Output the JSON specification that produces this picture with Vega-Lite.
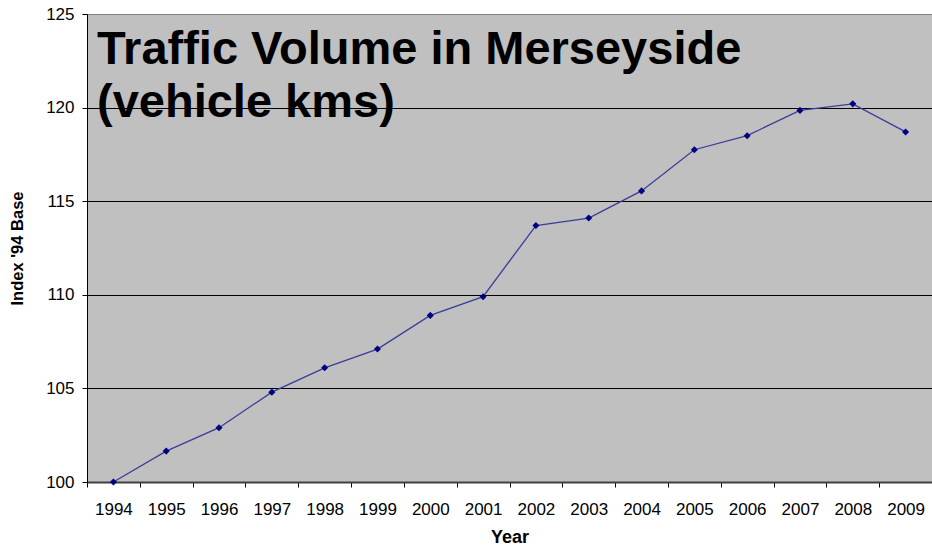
{
  "$schema": "https://vega.github.io/schema/vega-lite/v6.json",
  "width": 845,
  "height": 468,
  "autosize": "none",
  "padding": {"left": 87, "top": 14, "right": 0, "bottom": 66},
  "background": "white",
  "config": {
    "font": "Liberation Sans",
    "view": {"fill": "#C0C0C0", "stroke": null}
  },
  "title": {
    "text": ["Traffic Volume in Merseyside", "(vehicle kms)"],
    "font": "Liberation Sans",
    "fontSize": 47,
    "fontWeight": "bold",
    "color": "black",
    "anchor": "start",
    "frame": "group",
    "orient": "top",
    "baseline": "top",
    "lineHeight": 53,
    "offset": 0,
    "dx": 10,
    "dy": 122
  },
  "data": {
    "values": [
      {"Year": "1994", "Index": 100.0},
      {"Year": "1995", "Index": 101.65},
      {"Year": "1996", "Index": 102.9},
      {"Year": "1997", "Index": 104.8},
      {"Year": "1998", "Index": 106.1},
      {"Year": "1999", "Index": 107.1},
      {"Year": "2000", "Index": 108.9},
      {"Year": "2001", "Index": 109.9},
      {"Year": "2002", "Index": 113.7},
      {"Year": "2003", "Index": 114.1},
      {"Year": "2004", "Index": 115.55},
      {"Year": "2005", "Index": 117.75},
      {"Year": "2006", "Index": 118.5},
      {"Year": "2007", "Index": 119.85},
      {"Year": "2008", "Index": 120.2},
      {"Year": "2009", "Index": 118.7}
    ]
  },
  "encoding": {
    "x": {
      "field": "Year",
      "type": "ordinal",
      "scale": {"type": "band", "paddingInner": 0, "paddingOuter": 0},
      "axis": {
        "title": "Year",
        "titleFontSize": 18,
        "titleFontWeight": "bold",
        "titleColor": "black",
        "titlePadding": 11,
        "labelAngle": 0,
        "labelFontSize": 17,
        "labelColor": "black",
        "labelPadding": 14,
        "tickBand": "extent",
        "tickColor": "black",
        "tickSize": 5,
        "domainColor": "#404040",
        "domainWidth": 2,
        "grid": false
      }
    },
    "y": {
      "field": "Index",
      "type": "quantitative",
      "scale": {"domain": [100, 125], "nice": false, "zero": false},
      "axis": {
        "title": "Index '94 Base",
        "titleFontSize": 16.5,
        "titleFontWeight": "bold",
        "titleColor": "black",
        "titlePadding": 20,
        "values": [100, 105, 110, 115, 120, 125],
        "labelFontSize": 17,
        "labelColor": "black",
        "labelPadding": 8,
        "tickColor": "black",
        "tickSize": 5,
        "domainColor": "black",
        "grid": true,
        "gridColor": {"condition": {"test": "datum.value == 125", "value": "#808080"}, "value": "black"},
        "gridOpacity": 1,
        "gridWidth": 1
      }
    }
  },
  "layer": [
    {"mark": {"type": "line", "color": "#3C3C9C", "strokeWidth": 1.3}},
    {"mark": {"type": "point", "shape": "diamond", "filled": true, "color": "#000080", "size": 50, "opacity": 1}}
  ]
}
